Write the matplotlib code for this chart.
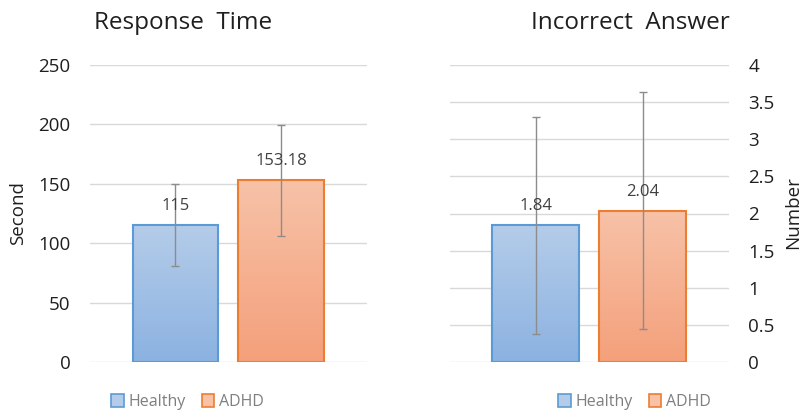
import matplotlib.pyplot as plt
import numpy as np
from matplotlib.patches import Rectangle
from matplotlib.colors import LinearSegmentedColormap

# data
groups = ["Healthy", "ADHD"]
time_mean = [115, 153.18]
time_err = [34.5, 46.7]
wrong_mean = [1.84, 2.04]
wrong_err = [1.46, 1.59]
time_labels = ["115", "153.18"]
wrong_labels = ["1.84", "2.04"]

edge_cols = ["#5b9bd5", "#ed7d31"]
top_cols = ["#b4cce9", "#f7c2a8"]
bot_cols = ["#8cb2e1", "#f4a07b"]

plt.rcParams['font.family'] = ['Open Sans', 'DejaVu Sans']

fig = plt.figure(figsize=(8.03, 4.12), dpi=100)
ax1 = fig.add_axes([90/803, 50/412, 277/803, 297/412])
ax2 = fig.add_axes([450/803, 50/412, 279/803, 297/412])


def gradient_bars(ax, vals, width):
	bars = ax.bar(range(len(vals)), vals, width=width, color='none',
		edgecolor=edge_cols, linewidth=1.5, zorder=3)
	for i, b in enumerate(bars):
		cmap = LinearSegmentedColormap.from_list('g', [bot_cols[i], top_cols[i]])
		grad = np.linspace(0, 1, 100).reshape(-1, 1)
		x0 = b.get_x()
		im = ax.imshow(grad, cmap=cmap, aspect='auto', origin='lower',
			extent=[x0, x0 + width, 0, vals[i]], zorder=2)
		im.set_clip_path(b)
	return bars


def style(ax, ylim, yticks, xlim):
	ax.set_xlim(*xlim)
	ax.set_ylim(*ylim)
	ax.set_yticks(yticks)
	ax.set_xticks([])
	for s in ax.spines.values():
		s.set_visible(False)
	ax.grid(axis='y', color='#d9d9d9', linewidth=1)
	ax.set_axisbelow(True)
	ax.tick_params(axis='y', length=0, labelsize=13.5, pad=14, colors='#1f1f1f')


gradient_bars(ax1, time_mean, 0.806)
ax1.errorbar(range(2), time_mean, yerr=time_err, fmt='none', ecolor='#8c8c8c',
	elinewidth=1, capsize=3, capthick=1, zorder=4)
style(ax1, (0, 250), [0, 50, 100, 150, 200, 250], (-0.81, 1.815))
ax1.set_yticklabels(['0', '50', '100', '150', '200', '250'])
for i, v in enumerate(time_mean):
	ax1.annotate(time_labels[i], (i, v), xytext=(0, 13.7), textcoords='offset points',
		ha='center', va='center', fontsize=12, color='#404040', zorder=5)

gradient_bars(ax2, wrong_mean, 0.813)
ax2.errorbar(range(2), wrong_mean, yerr=wrong_err, fmt='none', ecolor='#8c8c8c',
	elinewidth=1, capsize=3, capthick=1, zorder=4)
style(ax2, (0, 4), [0, 0.5, 1, 1.5, 2, 2.5, 3, 3.5, 4], (-0.80, 1.808))
ax2.yaxis.tick_right()
ax2.set_yticklabels(['0', '0.5', '1', '1.5', '2', '2.5', '3', '3.5', '4'])
for i, v in enumerate(wrong_mean):
	ax2.annotate(wrong_labels[i], (i, v), xytext=(0, 13.7), textcoords='offset points',
		ha='center', va='center', fontsize=12, color='#404040', zorder=5)

# titles and axis names
fig.text(183/803, 1 - 23/412, "Response  Time", ha='center', va='center',
	fontsize=17.5, color='#1f1f1f')
fig.text(630/803, 1 - 23/412, "Incorrect  Answer", ha='center', va='center',
	fontsize=17.5, color='#1f1f1f')
fig.text(18/803, 1 - 213/412, "Second", rotation=90, ha='center', va='center',
	fontsize=13.5, color='#1f1f1f')
fig.text(793/803, 1 - 213/412, "Number", rotation=90, ha='center', va='center',
	fontsize=13.5, color='#1f1f1f')

# legends
for cx in [187.5, 634.5]:
	handles = [Rectangle((0, 0), 1, 1, facecolor=top_cols[i], edgecolor=edge_cols[i],
		linewidth=1.2) for i in range(2)]
	fig.legend(handles, groups, loc='center', bbox_to_anchor=(cx/803, 1 - 402/412),
		bbox_transform=fig.transFigure, ncol=2, frameon=False, fontsize=11.5,
		handlelength=0.8, handleheight=0.8, handletextpad=0.3, columnspacing=1.0,
		labelcolor='#7f7f7f', borderpad=0, borderaxespad=0)

fig.savefig('out.png', dpi=100)
